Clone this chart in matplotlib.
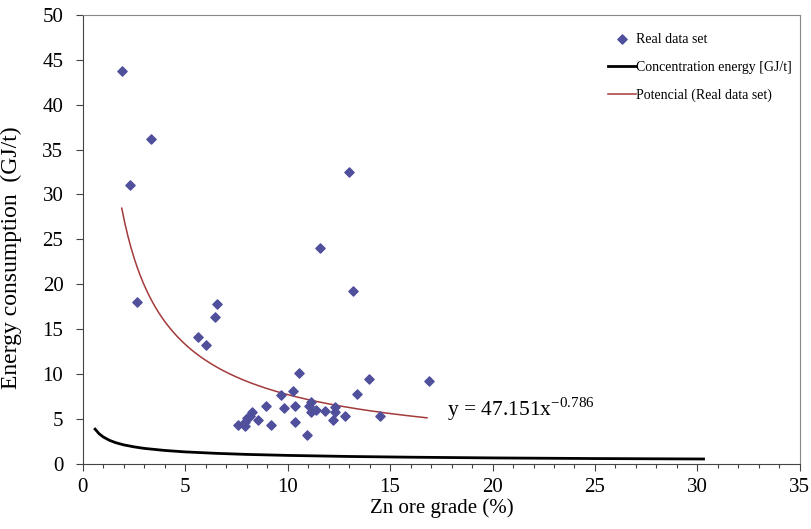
import numpy as np
import matplotlib
matplotlib.use("Agg")
import matplotlib.pyplot as plt
from matplotlib.ticker import MultipleLocator

plt.rcParams['font.family'] = ['Liberation Serif', 'DejaVu Serif']

# real data set (Zn ore grade %, energy GJ/t)
grade = [1.9, 3.33, 2.32, 12.97, 11.58, 13.19, 2.63, 6.55, 6.44, 5.64,
         6.03, 10.57, 13.99, 16.9, 9.67, 10.28, 13.38, 8.95, 9.80, 10.38,
         11.13, 11.06, 11.13, 11.39, 11.8, 12.3, 12.3, 12.19, 12.81, 14.5,
         8.27, 8.14, 8.02, 7.94, 7.94, 7.56, 8.56, 9.17, 10.38, 10.96]
energy = [43.8, 36.2, 31.1, 32.5, 24.0, 19.3, 18.0, 17.8, 16.4, 14.1,
          13.2, 10.15, 9.5, 9.2, 7.7, 8.07, 7.8, 6.47, 6.2, 6.47,
          6.9, 6.4, 5.73, 6.0, 5.87, 6.3, 5.77, 4.9, 5.36, 5.36,
          5.73, 5.36, 5.13, 4.72, 4.2, 4.39, 4.87, 4.39, 4.72, 3.27]

# concentration energy curve
conc_grade = [0.6, 0.8, 1.0, 1.3, 1.6, 2.0, 2.5, 3.0, 4.0, 5.0, 6.5, 8.0,
              10.0, 13.0, 16.0, 20.0, 25.0, 30.3]
conc_energy = [3.87, 3.35, 3.0, 2.63, 2.37, 2.12, 1.9, 1.73, 1.5, 1.34, 1.18,
               1.06, 0.95, 0.83, 0.75, 0.67, 0.6, 0.55]

# power trendline as printed on the chart
trend_a = 47.151
trend_b = -0.786
trend_range = (1.9, 16.8)

fig = plt.figure(figsize=(8.12, 5.29), dpi=100)
ax = fig.add_axes([0.102, 0.123, 0.883, 0.849])

ax.scatter(grade, energy, marker='D', s=22, color='#4f4f9c', zorder=3,
           label='Real data set')
ax.plot(conc_grade, conc_energy, color='black', lw=2, label='Concentration energy [GJ/t]')
tx = np.linspace(trend_range[0], trend_range[1], 200)
ax.plot(tx, trend_a * tx ** trend_b, color='#a33a3a', lw=1.1,
        label='Potencial (Real data set)')

ax.text(17.8, 6.1, r'y = %.3fx$^{\mathregular{%.3f}}$' % (trend_a, trend_b),
        fontsize=15.5, va='center', ha='left')

ax.set_xlim(0, 35)
ax.set_ylim(0, 50)
ax.xaxis.set_major_locator(MultipleLocator(5))
ax.xaxis.set_minor_locator(MultipleLocator(1))
ax.yaxis.set_major_locator(MultipleLocator(5))
ax.tick_params(axis='both', which='major', labelsize=15, length=5, width=0.8,
               color='#444444')
ax.tick_params(axis='y', which='major', pad=9)
ax.tick_params(axis='x', which='major', pad=5)
ax.tick_params(axis='x', which='minor', length=3, width=0.8, color='#444444')
for side in ['left', 'bottom']:
    ax.spines[side].set_color('#444444')
for side in ['top', 'right']:
    ax.spines[side].set_color('#888888')
    ax.spines[side].set_linewidth(0.8)

ax.set_xlabel('Zn ore grade (%)', fontsize=15, labelpad=1)
ax.set_ylabel('Energy consumption  (GJ/t)', fontsize=17)
ax.yaxis.set_label_coords(-0.085, 0.46)

ax.legend(loc='upper left', bbox_to_anchor=(0.742, 0.948), frameon=False,
          fontsize=10, handlelength=2.0, handletextpad=0.0, labelspacing=1.05,
          borderaxespad=0, bbox_transform=fig.transFigure)

fig.savefig('out.png', dpi=100)
